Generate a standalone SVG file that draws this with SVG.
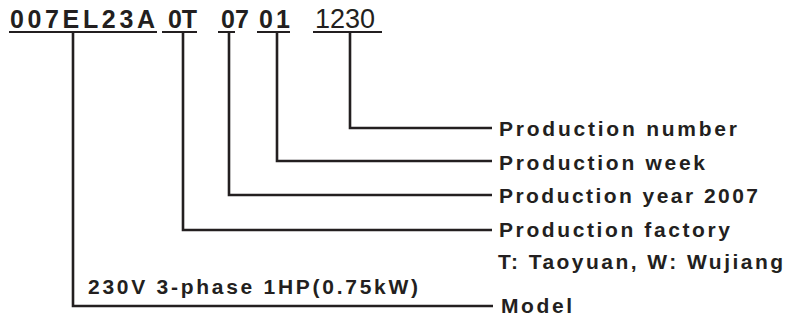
<svg xmlns="http://www.w3.org/2000/svg" width="788" height="324" viewBox="0 0 788 324">
<style>
.code{font-family:"Liberation Sans",Arial,sans-serif;font-weight:bold;font-size:25px;fill:#231f20}
.num{font-family:"Liberation Sans",Arial,sans-serif;font-size:27px;fill:#231f20}
.lbl{font-family:"Liberation Sans",Arial,sans-serif;font-weight:bold;font-size:21px;fill:#231f20}
.ul{stroke:#231f20;stroke-width:2;fill:none}
.conn{stroke:#231f20;stroke-width:2.6;fill:none}
</style>
<rect width="788" height="324" fill="#fff"/>
<g id="code-model"><text class="code" x="10" y="28" textLength="145" lengthAdjust="spacing">007EL23A</text><line class="ul" x1="9" y1="32" x2="157" y2="32"/></g>
<g id="code-factory"><text class="code" x="168" y="28" textLength="29" lengthAdjust="spacing">0T</text><line class="ul" x1="162" y1="32" x2="197" y2="32"/></g>
<g id="code-year"><text class="code" x="221" y="28" textLength="28" lengthAdjust="spacing">07</text><line class="ul" x1="218" y1="32" x2="235" y2="32"/></g>
<g id="code-week"><text class="code" x="259" y="28" textLength="31" lengthAdjust="spacing">01</text><line class="ul" x1="257" y1="32" x2="290" y2="32"/></g>
<g id="code-number"><text class="num" x="315" y="28" textLength="60" lengthAdjust="spacing">1230</text><line class="ul" x1="313" y1="32" x2="382" y2="32"/></g>
<g id="connectors">
<polyline class="conn" points="350,32 350,128 492,128"/>
<polyline class="conn" points="277,32 277,161 492,161"/>
<polyline class="conn" points="229,32 229,195 492,195"/>
<polyline class="conn" points="183,32 183,230 492,230"/>
<polyline class="conn" points="73,32 73,306 493,306"/>
</g>
<g id="label-number"><text class="lbl" x="499" y="136" textLength="238" lengthAdjust="spacing">Production number</text></g>
<g id="label-week"><text class="lbl" x="499" y="170" textLength="206" lengthAdjust="spacing">Production week</text></g>
<g id="label-year"><text class="lbl" x="499" y="203" textLength="259" lengthAdjust="spacing">Production year 2007</text></g>
<g id="label-factory"><text class="lbl" x="499" y="237" textLength="231" lengthAdjust="spacing">Production factory</text>
<text class="lbl" x="498" y="269" textLength="285" lengthAdjust="spacing">T: Taoyuan, W: Wujiang</text></g>
<g id="label-model"><text class="lbl" x="501" y="313" textLength="71" lengthAdjust="spacing">Model</text>
<text class="lbl" x="88" y="294" textLength="330" lengthAdjust="spacing">230V 3-phase 1HP(0.75kW)</text></g>
</svg>
